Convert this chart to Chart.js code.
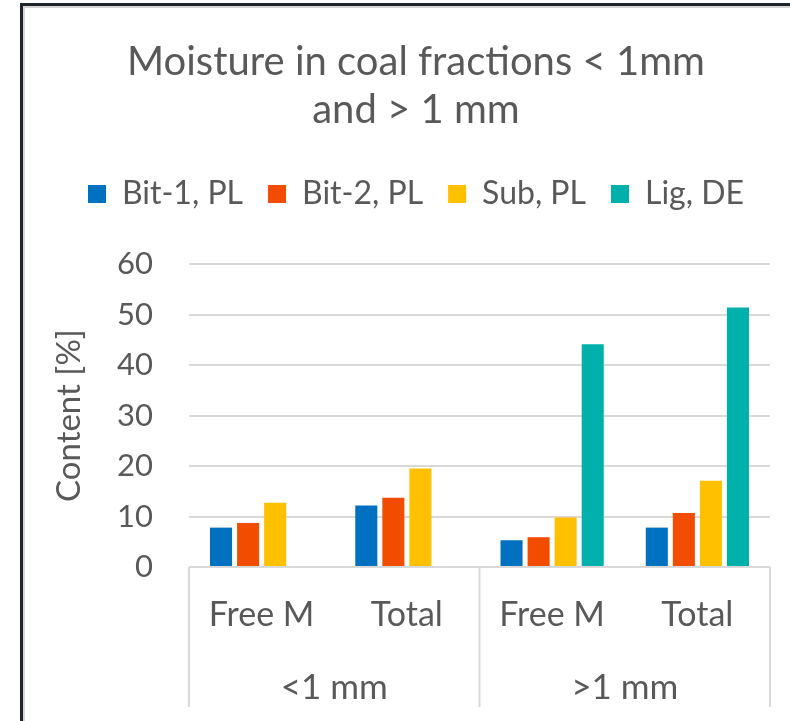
<!DOCTYPE html>
<html><head><meta charset="utf-8">
<script src="https://cdn.jsdelivr.net/npm/chart.js@4/dist/chart.umd.min.js"></script>
<style>
html,body{margin:0;padding:0;background:#fff;}
#wrap{position:relative;width:790px;height:721px;overflow:hidden;background:#fff;}
#frame{position:absolute;left:20px;top:3px;width:900px;height:900px;border-left:3px solid #1f232b;border-top:3px solid #1f232b;box-shadow:inset 2px 2px 0 #d6d6d6;pointer-events:none;}
canvas{position:absolute;left:0;top:0;}
</style></head><body>
<div id="wrap"><canvas id="c" width="790" height="721"></canvas><div id="frame"></div></div>
<script>
const categories = ['Free M', 'Total', 'Free M', 'Total'];
const groupLabels = ['<1 mm', '>1 mm'];
const seriesNames = ['Bit-1, PL', 'Bit-2, PL', 'Sub, PL', 'Lig, DE'];
const bit1 = [7.8, 12.2, 5.3, 7.8];
const bit2 = [8.7, 13.7, 5.9, 10.7];
const sub = [12.7, 19.5, 9.8, 17.1];
const lig = [null, null, 44.1, 51.4];
const yMin = 0, yMax = 60, yStep = 10;
const titleLines = ['Moisture in coal fractions < 1mm', 'and > 1 mm'];
const yTitle = 'Content [%]';

const colors = ['#0070C0', '#F24C00', '#FFC000', '#00B0AA'];
const seriesValues = [bit1, bit2, sub, lig];
const FONT = 'Lato, "Open Sans", sans-serif';
const TXT = '#595959';
const GRID = '#d9d9d9';

const groupLines = {
  id: 'groupLines',
  afterDraw(chart) {
    const x = chart.scales.x, x2 = chart.scales.x2, ca = chart.chartArea;
    const ctx = chart.ctx;
    const xs = [ca.left, (x.getPixelForValue(1) + x.getPixelForValue(2)) / 2, ca.right];
    ctx.save();
    ctx.strokeStyle = GRID;
    ctx.lineWidth = 2;
    xs.forEach(px => {
      ctx.beginPath();
      ctx.moveTo(px, ca.bottom);
      ctx.lineTo(px, x2.bottom - 2);
      ctx.stroke();
    });
    ctx.restore();
  }
};
const legendGap = {
  id: 'legendGap',
  beforeInit(chart) {
    const fit = chart.legend.fit;
    chart.legend.fit = function () { fit.call(this); this.height += 44; };
  }
};

new Chart(document.getElementById('c'), {
  type: 'bar',
  data: {
    labels: categories,
    datasets: seriesNames.map((n, i) => ({
      label: n,
      data: seriesValues[i],
      backgroundColor: colors[i],
      borderWidth: 0,
      categoryPercentage: 0.745,
      barPercentage: 0.815
    }))
  },
  options: {
    responsive: false,
    animation: false,
    devicePixelRatio: 1,
    layout: { padding: { top: 0, left: 62, right: 20, bottom: 12 } },
    plugins: {
      title: {
        display: true,
        text: titleLines,
        color: TXT,
        font: { family: FONT, size: 40, weight: 'normal', lineHeight: '48px' },
        padding: { top: 38, bottom: 19 }
      },
      legend: {
        position: 'top',
        labels: {
          color: TXT,
          font: { family: FONT, size: 32 },
          boxWidth: 18,
          boxHeight: 18,
          padding: 25
        }
      },
      tooltip: { enabled: false }
    },
    scales: {
      y: {
        min: yMin, max: yMax,
        ticks: { stepSize: yStep, color: TXT, font: { family: FONT, size: 31 }, padding: 36 },
        grid: { color: GRID, lineWidth: 2, drawTicks: false },
        border: { display: false },
        title: { display: true, text: yTitle, color: TXT, font: { family: FONT, size: 33 }, padding: { top: -12, bottom: 0 } },
        afterFit(s) { s.width = 127; }
      },
      x: {
        grid: { display: false, drawTicks: false },
        border: { display: false },
        ticks: { color: TXT, font: { family: FONT, size: 34 }, padding: 28 },
        afterFit(s) { s.height = 92; }
      },
      x2: {
        type: 'category',
        labels: groupLabels,
        position: 'bottom',
        grid: { display: false, drawTicks: false },
        border: { display: false },
        ticks: { color: TXT, font: { family: FONT, size: 35 }, padding: 8 },
        afterFit(s) { s.height = 50; }
      }
    }
  },
  plugins: [groupLines, legendGap]
});
</script>
</body></html>
